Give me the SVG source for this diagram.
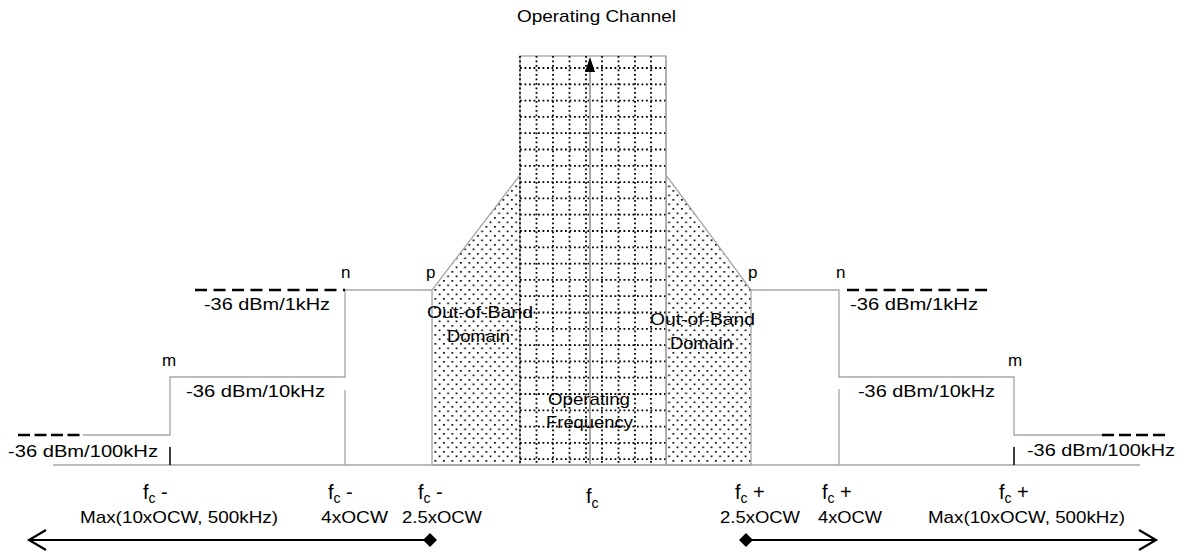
<svg xmlns="http://www.w3.org/2000/svg" width="1183" height="551" viewBox="0 0 1183 551">
<style>
text{font-family:"Liberation Sans",Arial,sans-serif;fill:#000}
.t{font-size:17px}
.lbl{font-size:17px}
.g{stroke:#a6a6a6;stroke-width:1.3;fill:none}
.dash{stroke:#000;stroke-width:2.5;fill:none}
.grid{stroke:#000;stroke-width:1.8;stroke-dasharray:1.8 2.7;fill:none}
.blk{stroke:#000;stroke-width:1.5;fill:none}
.arr{stroke:#000;stroke-width:2.2;fill:none}
.f{font-size:20px}
.sub{font-size:14px}
</style>
<defs>
<pattern id="dots" width="8.5" height="9" patternUnits="userSpaceOnUse">
<rect x="1" y="1" width="1.7" height="1.7" fill="#000"/>
<rect x="5.25" y="5.5" width="1.7" height="1.7" fill="#000"/>
</pattern>
</defs>

<g id="oob-left">
<polygon points="432,465 432,290 520,175 520,465" fill="url(#dots)" stroke="#a6a6a6" stroke-width="1.3"/>
</g>
<g id="oob-right">
<polygon points="666,465 666,175 751,290 751,465" fill="url(#dots)" stroke="#a6a6a6" stroke-width="1.3"/>
</g>

<g id="operating-channel">
<rect x="520" y="56" width="146" height="409" fill="#fff" stroke="#a6a6a6" stroke-width="1.3"/>
<g class="grid">
<path d="M520,56V465M536.5,56V465M553,56V465M569.5,56V465M586,56V465M602,56V465M618.5,56V465M635,56V465M651,56V465"/>
<path d="M520,68H666M520,84.3H666M520,100.6H666M520,116.9H666M520,133.2H666M520,149.5H666M520,165.8H666M520,182.1H666M520,198.4H666M520,214.7H666M520,231H666M520,247.3H666M520,263.6H666M520,279.9H666M520,296.2H666M520,312.5H666M520,328.8H666M520,345.1H666M520,361.4H666M520,377.7H666M520,394H666M520,410.3H666M520,426.6H666M520,442.9H666M520,459.2H666"/>
</g>
<line x1="590" y1="70" x2="590" y2="465" stroke="#a6a6a6" stroke-width="2"/>
<polygon points="590,57 585,72 595,72" fill="#000"/>
<line x1="666" y1="56" x2="666" y2="465" stroke="#a6a6a6" stroke-width="1.3"/>
<text class="lbl" x="517" y="22" textLength="159" lengthAdjust="spacingAndGlyphs">Operating Channel</text>
<text class="t" x="548" y="405" textLength="82" lengthAdjust="spacingAndGlyphs">Operating</text>
<text class="t" x="546" y="428" textLength="87" lengthAdjust="spacingAndGlyphs">Frequency</text>
</g>

<g id="oob-text">
<text class="t" x="427" y="318" textLength="106" lengthAdjust="spacingAndGlyphs">Out-of-Band</text>
<text class="t" x="447" y="342" textLength="63" lengthAdjust="spacingAndGlyphs">Domain</text>
<text class="t" x="650" y="325" textLength="105" lengthAdjust="spacingAndGlyphs">Out-of-Band</text>
<text class="t" x="670" y="349" textLength="63" lengthAdjust="spacingAndGlyphs">Domain</text>
</g>

<g id="connectors">
<path class="g" d="M53,465H1140"/>
<path class="g" d="M432,290H345V377H170V435H83"/>
<path class="g" d="M751,290H839V377H1014V435H1102"/>
<path class="g" d="M345,390V465M839,389V465"/>
<path class="blk" d="M170,447V465M1014,447V465"/>
<path class="dash" d="M195,290H345" stroke-dasharray="12 6.5"/>
<path class="dash" d="M18,435H83" stroke-dasharray="12 4.5"/>
<path class="dash" d="M847,290H990" stroke-dasharray="12 6.3"/>
<path class="dash" d="M1102,435H1166" stroke-dasharray="12 5"/>
<path class="arr" d="M30,540H428M46,530L29,540L46,550"/>
<polygon points="430,533 437,540 430,547 423,540" fill="#000"/>
<path class="arr" d="M748,540H1155M1139,530L1156,540L1139,550"/>
<polygon points="746,533 753,540 746,547 739,540" fill="#000"/>
</g>

<g id="step-labels">
<text class="lbl" x="341" y="278">n</text>
<text class="lbl" x="426" y="278">p</text>
<text class="lbl" x="162" y="366">m</text>
<text class="lbl" x="748" y="278">p</text>
<text class="lbl" x="836" y="278">n</text>
<text class="lbl" x="1008" y="366">m</text>
</g>

<g id="limit-labels">
<text class="t" x="204" y="310" textLength="126" lengthAdjust="spacingAndGlyphs">-36 dBm/1kHz</text>
<text class="t" x="186" y="397" textLength="139" lengthAdjust="spacingAndGlyphs">-36 dBm/10kHz</text>
<text class="t" x="8" y="457" textLength="150" lengthAdjust="spacingAndGlyphs">-36 dBm/100kHz</text>
<text class="t" x="850" y="310" textLength="128" lengthAdjust="spacingAndGlyphs">-36 dBm/1kHz</text>
<text class="t" x="858" y="397" textLength="137" lengthAdjust="spacingAndGlyphs">-36 dBm/10kHz</text>
<text class="t" x="1027" y="456" textLength="148" lengthAdjust="spacingAndGlyphs">-36 dBm/100kHz</text>
</g>

<g id="axis-labels">
<text class="f" x="143" y="499">f<tspan class="sub" dy="4">c</tspan><tspan dy="-4"> -</tspan></text>
<text class="t" x="80" y="523" textLength="198" lengthAdjust="spacingAndGlyphs">Max(10xOCW, 500kHz)</text>
<text class="f" x="328" y="499">f<tspan class="sub" dy="4">c</tspan><tspan dy="-4"> -</tspan></text>
<text class="t" x="321" y="523" textLength="67" lengthAdjust="spacingAndGlyphs">4xOCW</text>
<text class="f" x="418" y="499">f<tspan class="sub" dy="4">c</tspan><tspan dy="-4"> -</tspan></text>
<text class="t" x="402" y="523" textLength="80" lengthAdjust="spacingAndGlyphs">2.5xOCW</text>
<text class="f" x="586" y="503">f<tspan class="sub" dy="5">c</tspan></text>
<text class="f" x="735" y="499">f<tspan class="sub" dy="4">c</tspan><tspan dy="-4"> +</tspan></text>
<text class="t" x="720" y="523" textLength="80" lengthAdjust="spacingAndGlyphs">2.5xOCW</text>
<text class="f" x="822" y="499">f<tspan class="sub" dy="4">c</tspan><tspan dy="-4"> +</tspan></text>
<text class="t" x="818" y="523" textLength="64" lengthAdjust="spacingAndGlyphs">4xOCW</text>
<text class="f" x="999" y="499">f<tspan class="sub" dy="4">c</tspan><tspan dy="-4"> +</tspan></text>
<text class="t" x="928" y="523" textLength="197" lengthAdjust="spacingAndGlyphs">Max(10xOCW, 500kHz)</text>
</g>
</svg>
